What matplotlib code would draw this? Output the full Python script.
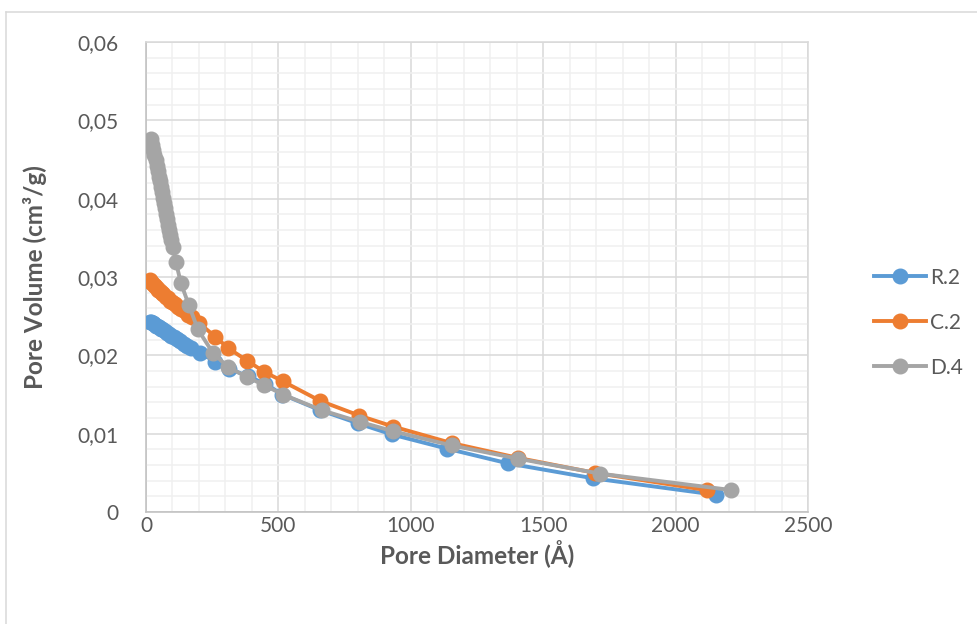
import matplotlib
matplotlib.use("Agg")
import matplotlib.pyplot as plt
from matplotlib.ticker import MultipleLocator, FuncFormatter
from matplotlib.lines import Line2D

# ------------------------------------------------------------------
# Data
# ------------------------------------------------------------------
r2_x = [15, 20, 25, 30, 36, 42, 48, 55, 62, 70, 78, 87, 96, 106, 117, 129, 142, 156, 171,
        204, 261, 315, 386, 449, 515, 657, 802, 928, 1135, 1368, 1689, 2151]
r2_y = [0.0243, 0.0242, 0.0241, 0.0240, 0.0238, 0.0237, 0.0236, 0.0234, 0.0233, 0.0231,
        0.0229, 0.0227, 0.0225, 0.0223, 0.0221, 0.0218, 0.0215, 0.0212, 0.0209,
        0.0203, 0.0192, 0.0183, 0.0173, 0.0164, 0.0150, 0.0130, 0.0113, 0.0099,
        0.0081, 0.0062, 0.0043, 0.0022]

c2_x = [15, 19, 24, 29, 34, 40, 46, 52, 59, 66, 74, 82, 91, 100, 110, 121, 133, 146, 160, 172,
        201, 261, 311, 383, 446, 516, 657, 806, 934, 1154, 1406, 1695, 2117]
c2_y = [0.0296, 0.0294, 0.0292, 0.0290, 0.0288, 0.0286, 0.0284, 0.0282, 0.0280, 0.0278,
        0.0275, 0.0273, 0.0270, 0.0268, 0.0265, 0.0262, 0.0259, 0.0256, 0.0252, 0.0249,
        0.0241, 0.0224, 0.0209, 0.0193, 0.0179, 0.0167, 0.0142, 0.0123, 0.0109,
        0.0088, 0.0069, 0.0050, 0.0028]

d4_x = [20, 24, 28, 32, 36, 40, 44, 48, 52, 56, 60, 64, 68, 72, 76, 80, 84, 88, 92, 96, 101,
        113, 132, 162, 196, 253, 310, 383, 446, 517, 663, 808, 934, 1154, 1406, 1714, 2211]
d4_y = [0.0476, 0.0469, 0.0462, 0.0456, 0.0449, 0.0442, 0.0435, 0.0428, 0.0422, 0.0415,
        0.0408, 0.0401, 0.0394, 0.0388, 0.0381, 0.0374, 0.0367, 0.0360, 0.0354, 0.0347,
        0.0338, 0.0319, 0.0292, 0.0264, 0.0233, 0.0203, 0.0185, 0.0172, 0.0162,
        0.0150, 0.0130, 0.0115, 0.0103, 0.0085, 0.0068, 0.0049, 0.0028]

series = [
    ("R.2", r2_x, r2_y, "#5B9BD5"),
    ("C.2", c2_x, c2_y, "#ED7D31"),
    ("D.4", d4_x, d4_y, "#A5A5A5"),
]

TEXT = "#595959"
plt.rcParams["font.family"] = ["Lato", "DejaVu Sans"]

fig = plt.figure(figsize=(9.78, 6.24), dpi=100)
ax = fig.add_axes([146 / 978, 112 / 624, 662 / 978, 470 / 624])

for name, xs, ys, col in series:
    ax.plot(xs, ys, color=col, lw=2.8, marker="o", ms=10.5, label=name,
            solid_capstyle="round", zorder=3)

ax.set_xlim(0, 2500)
ax.set_ylim(0, 0.06)
ax.xaxis.set_major_locator(MultipleLocator(500))
ax.xaxis.set_minor_locator(MultipleLocator(100))
ax.yaxis.set_major_locator(MultipleLocator(0.01))
ax.yaxis.set_minor_locator(MultipleLocator(0.002))
ax.grid(which="major", color="#D9D9D9", lw=1.1, zorder=0)
ax.grid(which="minor", color="#F0F0F0", lw=1.1, zorder=0)
ax.set_axisbelow(True)

ax.yaxis.set_major_formatter(FuncFormatter(
    lambda v, p: "0" if abs(v) < 1e-9 else f"{v:.2f}".replace(".", ",")))
ax.tick_params(which="both", length=0, labelsize=15, colors=TEXT)
ax.tick_params(axis="y", pad=20)
ax.tick_params(axis="x", pad=3)

for side in ["left", "bottom"]:
    ax.spines[side].set_color("#BFBFBF")
    ax.spines[side].set_linewidth(1.1)
for side in ["top", "right"]:
    ax.spines[side].set_color("#D9D9D9")
    ax.spines[side].set_linewidth(1.1)

ax.set_xlabel("Pore Diameter (Å)", fontsize=17.5, fontweight="bold", color=TEXT, labelpad=3)
ax.set_ylabel("Pore Volume (cm³/g)", fontsize=17.5, fontweight="bold", color=TEXT, labelpad=22)

handles = [Line2D([], [], color=c, lw=2.8, marker="o", ms=10.5) for _, _, _, c in series]
leg = fig.legend(handles, [s[0] for s in series], loc="upper left",
                 bbox_to_anchor=(855 / 978, 1 - 249 / 624), frameon=False,
                 fontsize=15, handlelength=2.5, handletextpad=0.2, labelspacing=1.2)
for t in leg.get_texts():
    t.set_color(TEXT)

# outer chart border (left/top visible only)
fig.add_artist(Line2D([6 / 978, 6 / 978], [0, 1 - 12 / 624], transform=fig.transFigure,
                      color="#D9D9D9", lw=1.1))
fig.add_artist(Line2D([6 / 978, 1], [1 - 12 / 624, 1 - 12 / 624], transform=fig.transFigure,
                      color="#D9D9D9", lw=1.1))

fig.savefig("out.png", dpi=100)
